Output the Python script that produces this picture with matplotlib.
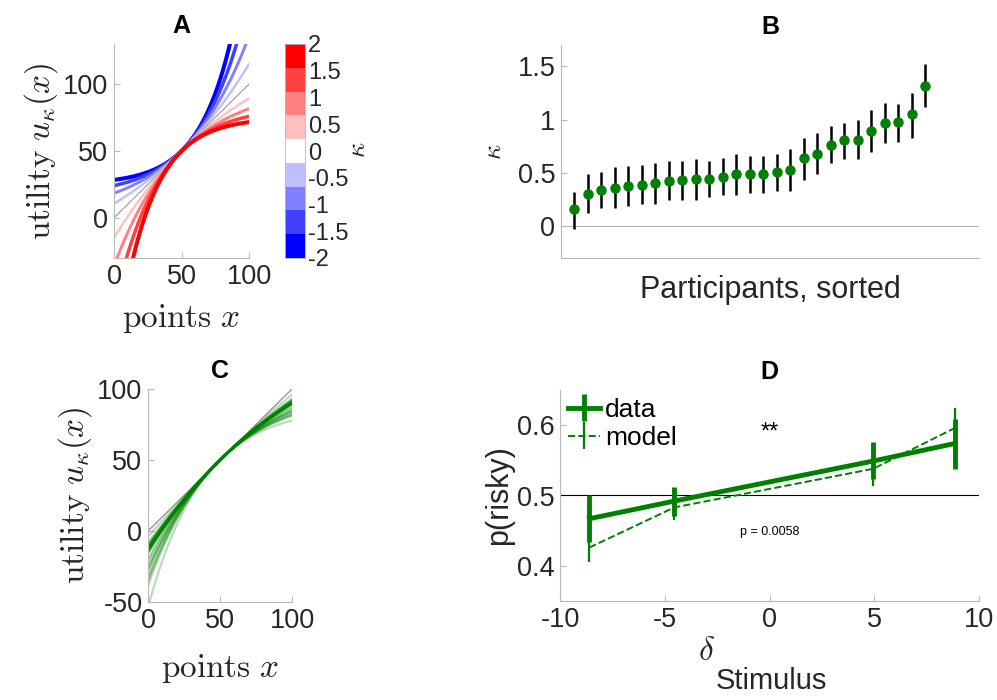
import numpy as np
import matplotlib
matplotlib.use("Agg")
import matplotlib.pyplot as plt
from matplotlib.colors import ListedColormap
import matplotlib.cm as cm

plt.rcParams['font.family'] = ['Liberation Sans', 'DejaVu Sans']
plt.rcParams['mathtext.fontset'] = 'cm'
plt.rcParams['axes.unicode_minus'] = False

# ---- data ----
# panel A: kappa values shown as example utility curves
kappa_demo = [-2, -1.5, -1, -0.5, 0, 0.5, 1, 1.5, 2]
cbar_ticks = [-2, -1.5, -1, -0.5, 0, 0.5, 1, 1.5, 2]
cbar_labels = ['-2', '-1.5', '-1', '-0.5', '0', '0.5', '1', '1.5', '2']

# panel B: fitted kappa per participant (sorted) with interval bounds
kappa_fit = [0.156, 0.30, 0.34, 0.36, 0.375, 0.39, 0.40, 0.42, 0.43, 0.44, 0.44,
             0.465, 0.49, 0.49, 0.49, 0.505, 0.53, 0.635, 0.68, 0.765, 0.81, 0.81,
             0.89, 0.97, 0.98, 1.05, 1.315]
kappa_lo = [-0.03, 0.12, 0.17, 0.17, 0.19, 0.21, 0.21, 0.24, 0.24, 0.24, 0.27,
            0.29, 0.29, 0.31, 0.31, 0.33, 0.33, 0.43, 0.49, 0.59, 0.63, 0.63,
            0.70, 0.78, 0.79, 0.83, 1.12]
kappa_hi = [0.32, 0.49, 0.51, 0.55, 0.56, 0.57, 0.59, 0.61, 0.61, 0.63, 0.61,
            0.64, 0.68, 0.66, 0.66, 0.68, 0.72, 0.83, 0.87, 0.94, 0.97, 1.00,
            1.09, 1.16, 1.15, 1.25, 1.52]
kappa_group = 0.45

# panel D
delta_stim = [-8.6, -4.55, 4.95, 8.85]
p_data = [0.467, 0.492, 0.549, 0.574]
p_data_lo = [0.434, 0.471, 0.523, 0.538]
p_data_hi = [0.501, 0.512, 0.576, 0.609]
p_model = [0.426, 0.483, 0.538, 0.596]
p_model_lo = [0.406, 0.465, 0.514, 0.568]
p_model_hi = [0.446, 0.501, 0.562, 0.624]

GREEN = (0.0, 0.5, 0.0)
SPINE = (0.72, 0.72, 0.72)
TXT = (0.15, 0.15, 0.15)
TICK_FS = 19.5


def utility(x, k):
    t = (x - 50.0) / 50.0
    if k == 0:
        return x
    return 50 + 50 * (1 - np.exp(-k * t)) / k


def style(ax):
    for s in ['top', 'right']:
        ax.spines[s].set_visible(False)
    for s in ['left', 'bottom']:
        ax.spines[s].set_color(SPINE)
        ax.spines[s].set_linewidth(0.8)
    ax.tick_params(direction='in', color=SPINE, labelcolor=TXT, labelsize=TICK_FS,
                   length=4, pad=4)


fig = plt.figure(figsize=(9.97, 7.0), dpi=100)
W, H = 997.0, 700.0


def box(l, t, r, b):
    return [l / W, 1 - b / H, (r - l) / W, (b - t) / H]


xs = np.linspace(0, 100, 301)

# ---- A ----
cols = [(0, 0, 1), (0.25, 0.25, 1), (0.5, 0.5, 1), (0.75, 0.75, 1), (1, 1, 1),
        (1, 0.75, 0.75), (1, 0.5, 0.5), (1, 0.25, 0.25), (1, 0, 0)]
cmap = ListedColormap(cols)
axA = fig.add_axes(box(114, 44, 249, 258))
for i, k in enumerate(kappa_demo):
    if k == 0:
        axA.plot(xs, utility(xs, k), color=(0.6, 0.6, 0.6), lw=0.8)
    else:
        axA.plot(xs, utility(xs, k), color=cols[i], lw=1.3 + 0.8 * abs(k))
axA.set_xlim(0, 100)
axA.set_ylim(-30, 130)
axA.set_xticks([0, 50, 100])
axA.set_yticks([0, 50, 100])
style(axA)
axA.set_title('A', fontsize=18, fontweight='bold', pad=8)
axA.set_ylabel(r'$\mathrm{utility}\ u_\kappa(x)$', fontsize=24, color=TXT, labelpad=2)
axA.set_xlabel(r'$\mathrm{points}\ x$', fontsize=24, color=TXT, labelpad=9)

caxA = fig.add_axes(box(285, 44, 305, 258))
norm = plt.Normalize(-2, 2)
cb = fig.colorbar(cm.ScalarMappable(norm=norm, cmap=cmap), cax=caxA)
cb.set_ticks(cbar_ticks)
cb.set_ticklabels(cbar_labels)
cb.outline.set_edgecolor(SPINE)
cb.outline.set_linewidth(0.6)
caxA.tick_params(labelsize=17, labelcolor=TXT, length=0, pad=2)
fig.text(358 / W, 1 - 150 / H, r'$\kappa$', fontsize=19, rotation=90,
         ha='center', va='center', color=TXT)

# ---- B ----
axB = fig.add_axes(box(561, 45, 979, 258))
idx = np.arange(1, len(kappa_fit) + 1)
kf = np.array(kappa_fit)
axB.axhline(0, color=(0.7, 0.7, 0.7), lw=0.8)
axB.vlines(idx, kappa_lo, kappa_hi, color='black', lw=1.8)
axB.plot(idx, kf, 'o', color=GREEN, ms=6.5, zorder=3)
axB.set_xlim(0, 31)
axB.set_ylim(-0.3, 1.7)
axB.set_xticks([])
axB.set_yticks([0, 0.5, 1, 1.5])
axB.set_yticklabels(['0', '0.5', '1', '1.5'])
style(axB)
axB.set_title('B', fontsize=18, fontweight='bold', pad=8)
axB.set_xlabel('Participants, sorted', fontsize=22, color=TXT, labelpad=12)
axB.set_ylabel(r'$\kappa$', fontsize=19, color=TXT, labelpad=8)

# ---- C ----
axC = fig.add_axes(box(148, 389, 292, 602))
axC.plot(xs, xs, color=(0.55, 0.55, 0.55), lw=0.9)
for k in kappa_fit:
    axC.plot(xs, utility(xs, k), color=GREEN, lw=1.6, alpha=0.28)
axC.plot(xs, utility(xs, kappa_group), color=GREEN, lw=2.5, alpha=0.8)
axC.set_xlim(0, 100)
axC.set_ylim(-50, 100)
axC.set_xticks([0, 50, 100])
axC.set_yticks([-50, 0, 50, 100])
style(axC)
axC.set_title('C', fontsize=18, fontweight='bold', pad=8)
axC.set_ylabel(r'$\mathrm{utility}\ u_\kappa(x)$', fontsize=24, color=TXT, labelpad=2)
axC.set_xlabel(r'$\mathrm{points}\ x$', fontsize=24, color=TXT, labelpad=13)

# ---- D ----
axD = fig.add_axes(box(560, 390, 979, 601))
axD.axhline(0.5, color='black', lw=0.8)
pd_ = np.array(p_data)
pm_ = np.array(p_model)
axD.errorbar(delta_stim, pd_,
             yerr=[pd_ - np.array(p_data_lo), np.array(p_data_hi) - pd_],
             color=GREEN, lw=3.5, elinewidth=3.5, capsize=0, label='data')
axD.errorbar(delta_stim, pm_,
             yerr=[pm_ - np.array(p_model_lo), np.array(p_model_hi) - pm_],
             color=GREEN, lw=1.4, ls='--', elinewidth=1.6, capsize=0,
             label='model')
axD.set_xlim(-10, 10)
axD.set_ylim(0.35, 0.65)
axD.set_xticks([-10, -5, 0, 5, 10])
axD.set_yticks([0.4, 0.5, 0.6])
style(axD)
axD.set_title('D', fontsize=18, fontweight='bold', pad=8)
axD.set_ylabel('p(risky)', fontsize=22, color=TXT, labelpad=2)
axD.text(0, 0.589, '**', fontsize=17, ha='center', va='center', color='black')
axD.text(0, 0.448, 'p = 0.0058', fontsize=9, ha='center', va='center', color='black')
leg = axD.legend(loc='upper left', frameon=False, fontsize=19, handlelength=1.2,
                 handletextpad=0.2, labelspacing=0.15, borderaxespad=0.1,
                 borderpad=0.2)
for h in leg.legend_handles:
    for child in getattr(h, 'get_children', lambda: [])():
        child.set_linewidth(1.6)
fig.text(707 / W, 1 - 651 / H, r'$\delta$', fontsize=24, ha='center', va='center',
         color=TXT)
fig.text(716 / W, 1 - 681 / H, 'Stimulus', fontsize=21, ha='left', va='center',
         color=TXT)

fig.savefig('out.png', dpi=100)
